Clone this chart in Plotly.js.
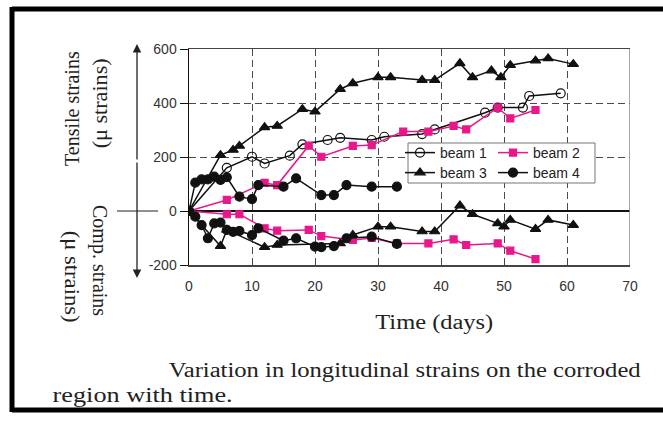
<!DOCTYPE html>
<html>
<head>
<meta charset="utf-8">
<script src="https://cdn.plot.ly/plotly-3.0.1.min.js"></script>
<style>
  html, body { margin: 0; padding: 0; background: #ffffff; }
  #chart { width: 663px; height: 423px; }
</style>
</head>
<body>
<div id="chart"></div>
<script>
// Longitudinal strains (micro-strain) over time (days) for four corroded beams.
// Positive values: tensile gauges; negative values: compressive gauges.
const beam1TensDays = [0, 6, 10, 12, 16, 18, 22, 24, 29, 31, 37, 39, 47, 49, 53, 54, 59];
const beam1TensStrain = [0, 160, 201, 176, 205, 247, 263, 271, 263, 275, 285, 302, 364, 383, 383, 426, 436];

const beam2TensDays = [0, 6, 12, 14, 19, 21, 26, 29, 34, 38, 42, 44, 49, 51, 55];
const beam2TensStrain = [0, 41, 104, 96, 242, 201, 241, 244, 294, 294, 315, 302, 383, 343, 374];
const beam2CompDays = [0, 6, 8, 12, 14, 19, 21, 26, 29, 33, 38, 42, 44, 49, 51, 55];
const beam2CompStrain = [0, -12, -12, -64, -73, -70, -93, -107, -100, -120, -120, -105, -126, -120, -147, -178];

const beam3TensDays = [0, 5, 7, 8, 12, 14, 18, 20, 24, 26, 30, 32, 37, 39, 43, 45, 48, 49.5, 51, 55, 57, 61];
const beam3TensStrain = [0, 207, 226, 241, 310, 315, 377, 368, 451, 473, 495, 495, 485, 485, 547, 495, 520, 495, 540, 557, 565, 544];
const beam3CompDays = [0, 5, 6, 12, 14, 24, 26, 30, 32, 37, 39, 43, 45, 49, 50, 51, 55, 57, 61];
const beam3CompStrain = [0, -130, -70, -134, -126, -120, -89, -58, -58, -76, -76, 20, -12, -46, -58, -33, -67, -33, -52];

const beam4TensDays = [0, 1, 2, 3, 4, 5, 6, 8, 10, 11, 15, 17, 21, 23, 25, 29, 33];
const beam4TensStrain = [0, 105, 117, 117, 127, 115, 125, 53, 44, 96, 90, 121, 59, 59, 96, 90, 90];
const beam4CompDays = [0, 1, 2, 3, 4, 5, 6, 7, 8, 10, 11, 15, 17, 20, 21, 23, 25, 29, 33];
const beam4CompStrain = [0, -21, -52, -101, -46, -43, -70, -77, -74, -89, -64, -110, -101, -132, -134, -130, -101, -95, -122];

const seriesNames = ['beam 1', 'beam 2', 'beam 3', 'beam 4'];
const xTickVals = [0, 10, 20, 30, 40, 50, 60, 70];
const yTickVals = [-200, 0, 200, 400, 600];

const MAGENTA = '#e8178a';
const BLACK = '#111111';

// plot area in pixels: left 189, right 630, top 49, bottom 265
const W = 663, H = 423;
const M = { l: 189, r: 33, t: 49, b: 158 };
const pw = W - M.l - M.r, ph = H - M.t - M.b;
const px = v => (v - M.l) / pw;          // pixel column -> paper x
const py = v => (H - M.b - v) / ph;      // pixel row -> paper y

const styles = [
  { color: BLACK, symbol: 'circle-open', size: 9 },
  { color: MAGENTA, symbol: 'square', size: 7 },
  { color: BLACK, symbol: 'triangle-up', size: 9 },
  { color: BLACK, symbol: 'circle', size: 9 }
];

// beams 1-2 sit in the first legend row, beams 3-4 in the second
function trace(x, y, i, show) {
  const s = styles[i];
  return {
    x: x, y: y, type: 'scatter', mode: 'lines+markers',
    name: seriesNames[i], showlegend: show, legend: i < 2 ? 'legend' : 'legend2',
    line: { color: s.color, width: 1.5 },
    marker: { symbol: s.symbol, size: s.size, color: s.color,
              line: { color: s.color, width: 1.2 } }
  };
}

const data = [
  trace(beam1TensDays, beam1TensStrain, 0, true),
  trace(beam2TensDays, beam2TensStrain, 1, true),
  trace(beam3TensDays, beam3TensStrain, 2, true),
  trace(beam4TensDays, beam4TensStrain, 3, true),
  trace(beam2CompDays, beam2CompStrain, 1, false),
  trace(beam3CompDays, beam3CompStrain, 2, false),
  trace(beam4CompDays, beam4CompStrain, 3, false)
];

const serif = 'Liberation Serif, Times New Roman, serif';
const sans = 'Liberation Sans, Arial, sans-serif';
const txt = '#222222';

function label(x, y, text, size, angle, stretchTo) {
  return { xref: 'paper', yref: 'paper', x: px(x), y: py(y), text: text,
           textangle: angle || 0, xanchor: 'center', yanchor: 'middle',
           showarrow: false, font: { family: serif, size: size, color: txt },
           name: stretchTo ? 'w' + stretchTo : undefined };
}

function legendRow(yRow) {
  return {
    orientation: 'h', x: px(400), y: py(yRow), xanchor: 'left', yanchor: 'middle',
    bgcolor: 'rgba(0,0,0,0)', borderwidth: 0,
    font: { family: sans, size: 14, color: '#222222' },
    entrywidth: 48, entrywidthmode: 'pixels', itemwidth: 30, traceorder: 'normal'
  };
}

const frame = { color: '#000000', width: 5 };
const gridDash = '7px,4px';

const layout = {
  width: W, height: H,
  margin: M,
  paper_bgcolor: '#ffffff', plot_bgcolor: '#ffffff',
  showlegend: true,
  xaxis: {
    range: [0, 70], tickvals: xTickVals, ticktext: xTickVals.map(String),
    showgrid: true, gridcolor: '#4a4a4a', griddash: gridDash, gridwidth: 1,
    showline: true, linecolor: '#444444', linewidth: 1.5, mirror: true,
    ticks: 'inside', ticklen: 5, tickcolor: '#444444',
    tickfont: { family: sans, size: 14, color: '#333333' },
    ticklabelstandoff: 8, zeroline: false, fixedrange: true
  },
  yaxis: {
    range: [-200, 600], tickvals: yTickVals, ticktext: yTickVals.map(String),
    showgrid: true, gridcolor: '#4a4a4a', griddash: gridDash, gridwidth: 1,
    showline: true, linecolor: '#111111', linewidth: 1.5,
    ticks: 'outside', ticklen: 8, tickcolor: '#111111',
    tickfont: { family: sans, size: 14, color: '#333333' },
    zeroline: true, zerolinecolor: '#111111', zerolinewidth: 1.5, fixedrange: true
  },
  legend: legendRow(153),
  legend2: legendRow(173),
  shapes: [
    // right border of the plot frame
    { type: 'line', xref: 'x', yref: 'y', x0: 70, x1: 70, y0: -200, y1: 600,
      line: { color: '#888888', width: 1.5 } },
    // legend box behind the two legend rows
    { type: 'rect', xref: 'paper', yref: 'paper', x0: px(408), x1: px(595), y0: py(183), y1: py(143),
      fillcolor: '#ffffff', line: { color: '#777777', width: 1 }, layer: 'above' },
    // crossbar of the strain-direction arrow, level with zero strain
    { type: 'line', xref: 'paper', yref: 'y', x0: px(117), x1: px(158), y0: 0, y1: 0,
      line: { color: '#222222', width: 1.2 } },
    // outer figure frame (open on the right)
    { type: 'line', xref: 'paper', yref: 'paper', x0: px(12), x1: px(700), y0: py(9), y1: py(9), line: frame },
    { type: 'line', xref: 'paper', yref: 'paper', x0: px(12), x1: px(700), y0: py(410), y1: py(410), line: frame },
    { type: 'line', xref: 'paper', yref: 'paper', x0: px(12), x1: px(12), y0: py(7), y1: py(412), line: frame }
  ],
  annotations: [
    // double-headed strain-direction arrow
    { xref: 'paper', yref: 'paper', x: px(137), y: py(44), text: '', showarrow: true,
      ax: 0, ay: 117, arrowhead: 2, arrowsize: 1.3, arrowwidth: 1.3, arrowcolor: '#222222', standoff: 0 },
    { xref: 'paper', yref: 'paper', x: px(137), y: py(278), text: '', showarrow: true,
      ax: 0, ay: -117, arrowhead: 2, arrowsize: 1.3, arrowwidth: 1.3, arrowcolor: '#222222', standoff: 0 },
    // axis titles
    label(72, 108, 'Tensile strains', 20, -90),
    label(100, 104, '(\u03bc strains)', 20, -90, 90),
    label(100, 260, 'Comp. strains', 20, 90),
    label(72, 277, '(\u03bc strains)', 20, 90, 92),
    label(434, 322, 'Time (days)', 20, 0, 118),
    // caption
    label(404, 370, 'Variation in longitudinal strains on the corroded', 20, 0, 472),
    label(142, 395, 'region with time.', 20, 0, 180)
  ]
};

Plotly.newPlot('chart', data, layout, { staticPlot: true, displayModeBar: false }).then(gd => {
  // the printed figure uses a horizontally wide serif face: widen those lines to their set width
  gd.layout.annotations.forEach((a, i) => {
    if (a.name && a.name[0] === 'w') {
      const el = gd.querySelector('.annotation[data-index="' + i + '"] text.annotation-text');
      if (el) {
        el.setAttribute('textLength', a.name.slice(1));
        el.setAttribute('lengthAdjust', 'spacingAndGlyphs');
      }
    }
  });
});
</script>
</body>
</html>
